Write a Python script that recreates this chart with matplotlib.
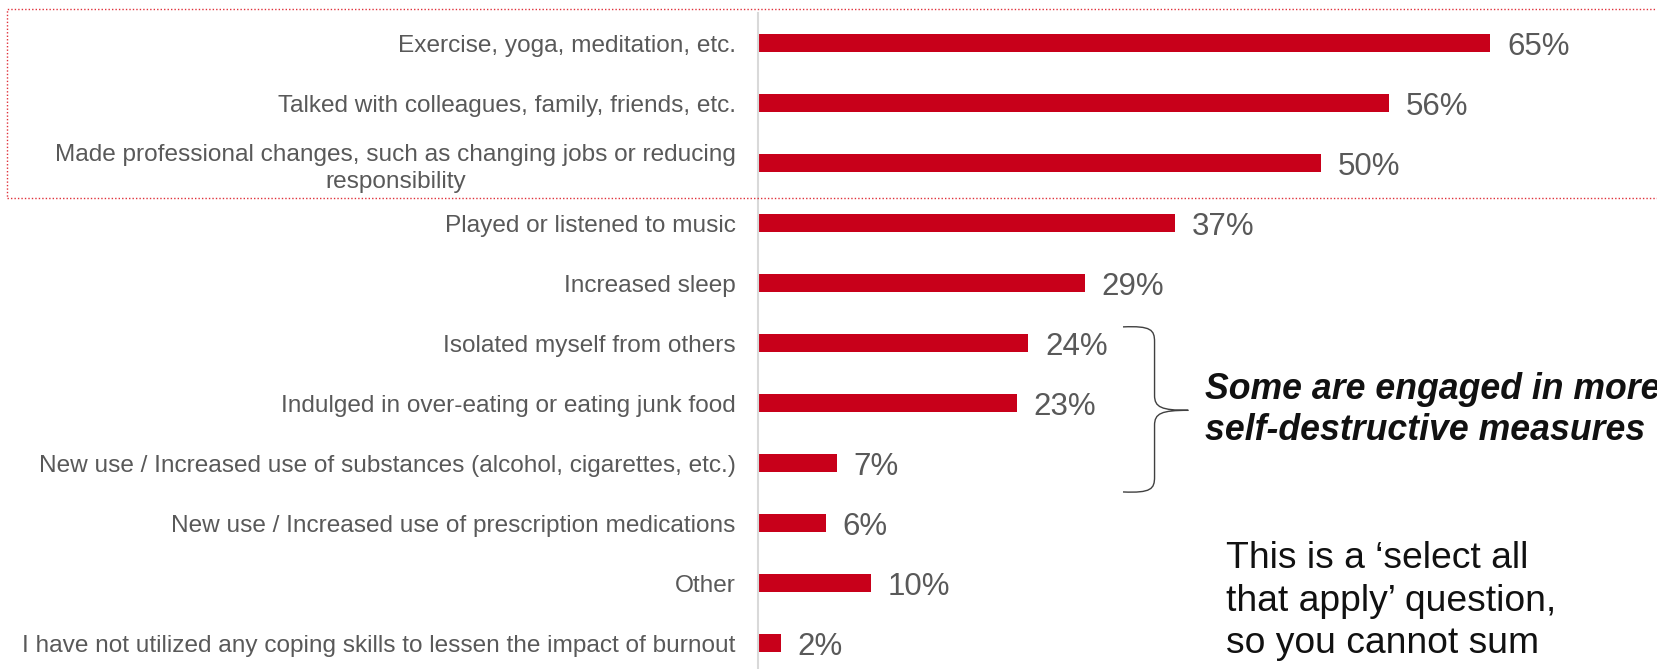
import matplotlib
matplotlib.use('Agg')
import matplotlib.pyplot as plt
from matplotlib.patches import Rectangle, PathPatch
from matplotlib.path import Path

plt.rcParams['font.family'] = ['Liberation Sans', 'DejaVu Sans']

categories = [
    'Exercise, yoga, meditation, etc.',
    'Talked with colleagues, family, friends, etc.',
    'Made professional changes, such as changing jobs or reducing\nresponsibility',
    'Played or listened to music',
    'Increased sleep',
    'Isolated myself from others',
    'Indulged in over-eating or eating junk food',
    'New use / Increased use of substances (alcohol, cigarettes, etc.)',
    'New use / Increased use of prescription medications',
    'Other',
    'I have not utilized any coping skills to lessen the impact of burnout',
]
values = [65, 56, 50, 37, 29, 24, 23, 7, 6, 10, 2]
value_labels = ['%d%%' % v for v in values]

bar_color = '#C8001A'
grey = '#595959'

fig = plt.figure(figsize=(16.57, 6.69), dpi=100)
ax = fig.add_axes([758 / 1657, 0, 899 / 1657, 656 / 669])

ypos = list(range(len(categories)))
ax.barh(ypos, values, height=0.3, color=bar_color)
ax.set_xlim(0, 79.8)
ax.set_ylim(10.43, -0.5)

ax.set_yticks(ypos)
ax.set_yticklabels(categories, fontsize=17.6, color=grey, linespacing=1.35)
for lab in ax.get_yticklabels():
    lab.set_multialignment('center')
ax.tick_params(axis='y', length=0, pad=16)
ax.set_xticks([])

for s in ['top', 'right', 'bottom']:
    ax.spines[s].set_visible(False)
ax.spines['left'].set_color('#d9d9d9')
ax.spines['left'].set_linewidth(1.5)

# value labels just past the bar ends
for y, v, t in zip(ypos, values, value_labels):
    ax.annotate(t, xy=(v, y), xytext=(12, 0), textcoords='offset points',
                ha='left', va='center_baseline', fontsize=22.5, color=grey)

# dotted frame around the top three items
fig.patches.append(Rectangle((7 / 1657, 1 - 198 / 669), 1.0, 189 / 669,
                             transform=fig.transFigure, fill=False,
                             edgecolor='#e0303a', linestyle=(0, (1, 1.5)),
                             linewidth=1.0, clip_on=False))

# curly brace grouping the self-destructive items
xa, xb, xc = 32.4, 35.2, 38.2
top, mid, bot = 4.73, 6.12, 7.48
verts = [
    (xa, top), (xb - 0.3, top - 0.02), (xb, top + 0.05), (xb, top + 0.25),
    (xb, mid - 0.25), (xb, mid - 0.05), (xb + 0.6, mid), (xc, mid),
    (xb + 0.6, mid), (xb, mid + 0.05), (xb, mid + 0.25),
    (xb, bot - 0.25), (xb, bot - 0.05), (xb - 0.3, bot + 0.02), (xa, bot),
]
codes = [Path.MOVETO, Path.CURVE4, Path.CURVE4, Path.CURVE4,
         Path.LINETO, Path.CURVE4, Path.CURVE4, Path.CURVE4,
         Path.CURVE4, Path.CURVE4, Path.CURVE4,
         Path.LINETO, Path.CURVE4, Path.CURVE4, Path.CURVE4]
ax.add_patch(PathPatch(Path(verts, codes), fill=False, edgecolor='#404040',
                       linewidth=1.0, clip_on=False))

fig.text(1205 / 1657, 1 - 410 / 669,
         'Some are engaged in more\nself-destructive measures',
         fontsize=25.7, fontweight='bold', fontstyle='italic', color='#111111',
         ha='left', va='center', linespacing=1.25)

# note in the lower right, anchored on the baseline of its last line
fig.text(1226 / 1657, 1 - 653 / 669,
         'This is a \u2018select all\nthat apply\u2019 question,\nso you cannot sum',
         fontsize=26.8, color='#111111', ha='left', va='baseline',
         linespacing=1.27)

fig.savefig('out.png', dpi=100)
